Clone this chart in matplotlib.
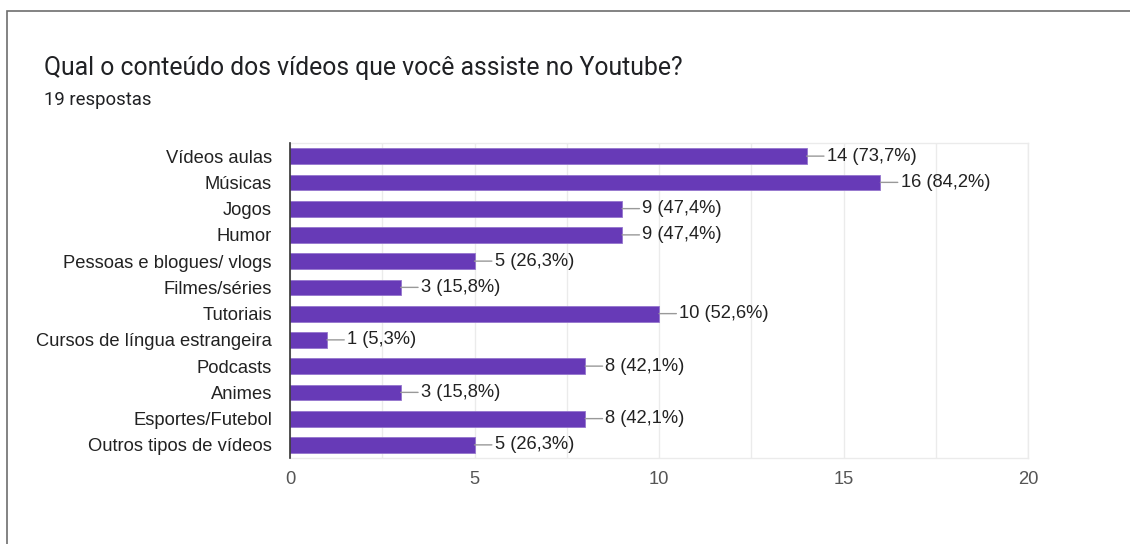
import matplotlib.pyplot as plt
from matplotlib.patches import Rectangle

# dados do formulario
categorias = ["Vídeos aulas", "Músicas", "Jogos", "Humor", "Pessoas e blogues/ vlogs",
              "Filmes/séries", "Tutoriais", "Cursos de língua estrangeira", "Podcasts",
              "Animes", "Esportes/Futebol", "Outros tipos de vídeos"]
valores = [14, 16, 9, 9, 5, 3, 10, 1, 8, 3, 8, 5]
porcentagens = ["73,7%", "84,2%", "47,4%", "47,4%", "26,3%", "15,8%",
                "52,6%", "5,3%", "42,1%", "15,8%", "42,1%", "26,3%"]
xticks = [0, 5, 10, 15, 20]

titulo = "Qual o conteúdo dos vídeos que você assiste no Youtube?"
subtitulo = "19 respostas"

cor = "#673ab7"
fonte = ["Liberation Sans", "DejaVu Sans"]

fig = plt.figure(figsize=(11.3, 5.44), dpi=100)
fig.patch.set_facecolor("white")

# moldura do cartao
fig.patches.append(Rectangle((7 / 1130, -0.1), 1.2, 1 - 11 / 544 + 0.1,
                             transform=fig.transFigure, fill=False,
                             edgecolor="#6e6e6e", linewidth=1.2))

fig.text(44 / 1130, 1 - 68 / 544, titulo, fontsize=17.8, color="#202124",
         family="Roboto", va="center", ha="left")
fig.text(44 / 1130, 1 - 100 / 544, subtitulo, fontsize=13.3, color="#202124",
         family="Roboto", va="center", ha="left")

ax = fig.add_axes([290 / 1130, 1 - 458 / 544, (1028 - 290) / 1130, (458 - 143) / 544])
y = list(range(len(categorias)))
ax.barh(y, valores, height=0.6, color=cor, edgecolor="#9575cd", linewidth=0.6, zorder=3)

for i, v in enumerate(valores):
    ax.annotate(f"{v} ({porcentagens[i]})", xy=(v, i), xytext=(14.5, 0),
                textcoords="offset points", va="center", ha="left",
                fontsize=13.2, color="#222222", family=fonte,
                arrowprops=dict(arrowstyle="-", color="#999999", lw=1,
                                shrinkA=0, shrinkB=0))

ax.set_xlim(0, 20)
ax.set_ylim(len(categorias) - 0.5, -0.5)
ax.set_yticks(y)
ax.set_yticklabels(categorias, fontsize=13.2, color="#222222", family=fonte)
ax.set_xticks(xticks)
ax.set_xticklabels([str(t) for t in xticks], fontsize=13.2, color="#555555", family=fonte)
ax.set_xticks([2.5, 7.5, 12.5, 17.5], minor=True)
ax.tick_params(axis="y", length=0, pad=13)
ax.tick_params(axis="x", which="both", length=0, pad=9)
ax.grid(axis="x", which="both", color="#ebebeb", linewidth=1, zorder=0)

for s in ["top", "right", "bottom"]:
    ax.spines[s].set_color("#ebebeb")
    ax.spines[s].set_linewidth(1)
ax.spines["left"].set_color("#333333")
ax.spines["left"].set_linewidth(1.2)
ax.spines["left"].set_zorder(4)

plt.savefig("out.png", dpi=100)
